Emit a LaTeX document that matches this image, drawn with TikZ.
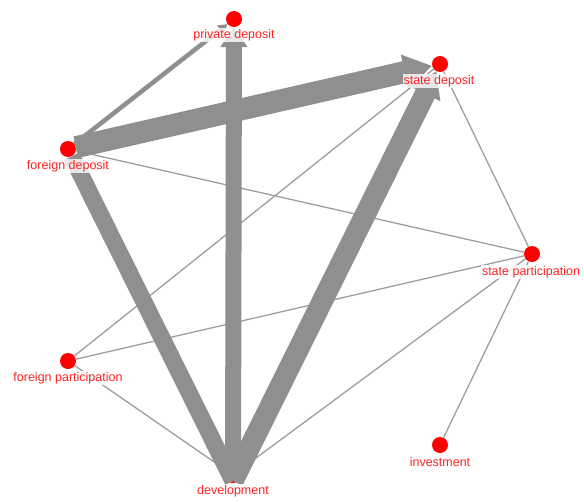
\documentclass[tikz,border=0pt]{standalone}
\usepackage{fontspec}
\setmainfont{Liberation Sans}
\usetikzlibrary{arrows.meta}
\definecolor{edgegray}{RGB}{143,143,143}
\definecolor{thingray}{RGB}{158,158,158}
\definecolor{labred}{RGB}{255,35,35}
\begin{document}
\begin{tikzpicture}[x=1pt,y=-1pt,
  dot/.style={circle,fill=red,inner sep=0pt,minimum size=16pt},
  lab/.style={font=\fontsize{12.5}{14}\selectfont,text=labred,fill=white,fill opacity=0.8,text opacity=1,inner sep=1pt},
  thinedge/.style={draw=thingray,line width=1.3pt},
  thickedge/.style={draw=edgegray}]
\useasboundingbox[fill=white] (0,0) rectangle (584,501);
% dots
\node[dot] (pd) at (234,19) {};
\node[dot] (sd) at (440,64) {};
\node[dot] (fd) at (68,149) {};
\node[dot] (sp) at (532,254) {};
\node[dot] (fp) at (68,361) {};
\node[dot] (inv) at (440,445) {};
\node[dot] (dev) at (233,475) {};
\coordinate (devb) at (233,481);
% thin edges
\draw[thinedge] (fd) -- (sp);
\draw[thinedge] (sd) -- (sp);
\draw[thinedge] (sd) -- (fp);
\draw[thinedge] (fp) -- (sp);
\draw[thinedge] (fp) -- (dev);
\draw[thinedge] (dev) -- (sp);
\draw[thinedge] (sp) -- (inv);
% thick edges
\draw[thickedge,line width=17pt] (fd) -- (devb);
\draw[thickedge,line width=16pt,-{Triangle[width=26pt,length=20pt]}] (devb) -- (pd);
\draw[thickedge,line width=21pt,-{Triangle[width=32pt,length=25pt]}] (devb) -- (sd);
\draw[thickedge,line width=22pt,-{Triangle[width=34pt,length=28pt]}] (fd) -- (sd);
\draw[thickedge,line width=4.5pt,-{Triangle[width=10pt,length=9pt]}] (fd) -- (pd);
% labels
\node[lab] (pdl) at (234,35) {private deposit};
\node[lab] (sdl) at (439,81) {state deposit};
\node[lab] (fdl) at (68,166) {foreign deposit};
\node[lab] (spl) at (531,272) {state participation};
\node[lab] (fpl) at (68,378) {foreign participation};
\node[lab] (invl) at (440,462) {investment};
\node[lab] (devl) at (233,491) {development};
\end{tikzpicture}
\end{document}
